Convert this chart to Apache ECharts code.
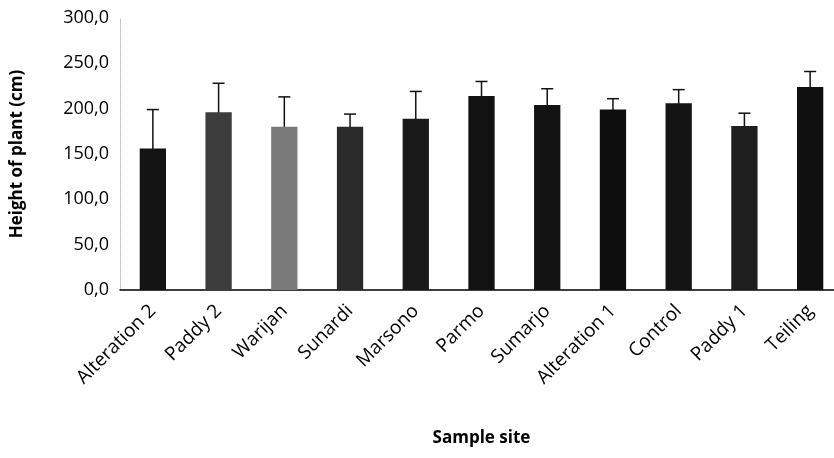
<!DOCTYPE html>
<html>
<head>
<meta charset="utf-8">
<script src="https://cdn.jsdelivr.net/npm/echarts@6/dist/echarts.min.js"></script>
<style>html,body{margin:0;padding:0;background:#fff;overflow:hidden;width:834px;height:458px}#c{width:843px;height:458px}</style>
</head>
<body>
<div id="c"></div>
<script>
const categories = ['Alteration 2','Paddy 2','Warijan','Sunardi','Marsono','Parmo','Sumarjo','Alteration 1','Control','Paddy 1','Teiling'];
const heights = [156, 196, 180, 180, 189, 214, 204, 199, 206, 181, 224];
const errors = [43, 32, 33, 14, 30, 16, 18, 12, 15, 14, 17];
const yTicks = [0, 50, 100, 150, 200, 250, 300];
const barColors = ['#141414','#3c3c3c','#7a7a7a','#2a2a2a','#1a1a1a','#121212','#121212','#0e0e0e','#141414','#1e1e1e','#101010'];

const FONT = '"Open Sans", "Liberation Sans", sans-serif';
const chart = echarts.init(document.getElementById('c'), null, {renderer: 'canvas'});
chart.setOption({
  animation: false,
  backgroundColor: '#fff',
  grid: {left: 120, right: 0, top: 18, bottom: 168, containLabel: false},
  xAxis: {
    type: 'category',
    data: categories,
    name: 'Sample site',
    nameLocation: 'middle',
    nameGap: 140,
    nameTextStyle: {fontFamily: FONT, fontWeight: 'bold', fontSize: 17, color: '#000'},
    axisLine: {lineStyle: {color: '#000', width: 1.5}},
    axisTick: {show: false},
    axisLabel: {rotate: 45, fontFamily: FONT, fontSize: 19, color: '#000', margin: 18, interval: 0}
  },
  yAxis: {
    type: 'value',
    min: yTicks[0],
    max: yTicks[yTicks.length - 1],
    interval: 50,
    name: 'Height of plant (cm)',
    nameLocation: 'middle',
    nameGap: 94,
    nameTextStyle: {fontFamily: FONT, fontWeight: 'bold', fontSize: 17, color: '#000'},
    axisLine: {show: true, lineStyle: {color: '#bbb', width: 1, type: 'dotted'}},
    axisTick: {show: false},
    splitLine: {show: false},
    axisLabel: {fontFamily: FONT, fontSize: 18, color: '#000', margin: 11,
      formatter: v => v.toFixed(1).replace('.', ',')}
  },
  series: [
    {
      type: 'custom',
      z: 1,
      data: heights.map((v, i) => [i, v - errors[i], v + errors[i]]),
      renderItem: function (params, api) {
        const lo = api.coord([api.value(0), api.value(1)]);
        const hi = api.coord([api.value(0), api.value(2)]);
        const hw = 6;
        const style = {stroke: '#111', lineWidth: 1.5};
        return {
          type: 'group',
          children: [
            {type: 'line', shape: {x1: hi[0], y1: hi[1], x2: lo[0], y2: lo[1]}, style: style},
            {type: 'line', shape: {x1: hi[0] - hw, y1: hi[1], x2: hi[0] + hw, y2: hi[1]}, style: style}
          ]
        };
      }
    },
    {
      type: 'bar',
      z: 2,
      barWidth: '40%',
      data: heights.map((v, i) => ({value: v, itemStyle: {color: barColors[i]}}))
    }
  ]
});
</script>
</body>
</html>
